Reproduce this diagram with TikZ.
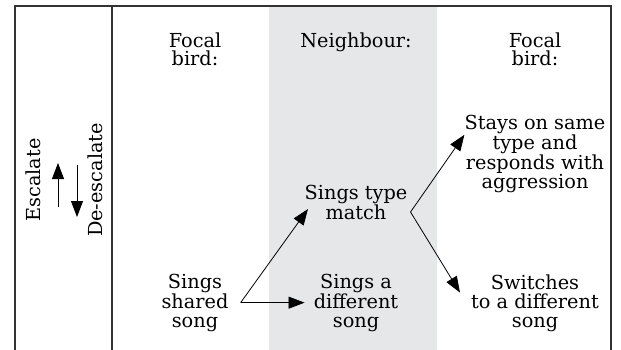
\documentclass[tikz,border=0pt]{standalone}
\usepackage{fontspec}
\setmainfont{DejaVu Serif}
\usepackage{tikz}
\usetikzlibrary{arrows.meta, positioning, calc}
\definecolor{bandgrey}{RGB}{230, 231, 233}

\begin{document}
\begin{tikzpicture}[
    x=1pt, y=-1pt,
    txt/.style={font=\fontsize{19.3}{18.7}\selectfont, align=center, inner sep=0pt, anchor=base},
    conn/.style={-{Triangle[length=16pt, width=12pt]}, line width=0.8pt},
    frame/.style={line width=1.1pt, draw=black!80}
]
    \useasboundingbox (0, 0) rectangle (621, 350);

    % Shaded neighbour column
    \fill[bandgrey] (269, 6) rectangle (437, 350);

    % Frame and axis column
    \draw[frame] (15, 350) -- (15, 6) -- (611, 6) -- (611, 350);
    \draw[frame] (112, 6) -- (112, 350);

    % Column headings (anchor is the last baseline)
    \node[txt] (focalA) at (195, 66) {Focal\\bird:};
    \node[txt] (neigh) at (356, 48) {Neighbour:};
    \node[txt] (focalB) at (535, 66) {Focal\\bird:};

    % Escalation axis
    \node[txt, rotate=90, anchor=center] (esc) at (33, 180) {Escalate};
    \node[txt, rotate=90, anchor=center] (deesc) at (95, 180) {De-escalate};
    \draw[conn] (58, 207) -- (58, 163);
    \draw[conn] (77, 165) -- (77, 217);

    % Song types
    \node[txt, inner xsep=12pt] (shared) at (195, 327) {Sings\\shared\\song};
    \node[txt, inner xsep=9pt] (diff) at (356, 327) {Sings a\\different\\song};
    \node[txt] (match) at (356, 219) {Sings type\\match};
    \node[txt] (stays) at (535, 188) {Stays on same\\type and\\responds with\\aggression};
    \node[txt, inner xsep=11pt] (switch) at (535, 327) {Switches\\to a different\\song};

    % Connectors
    \coordinate (split) at ($(match.349)+(3, 0)$);
    \draw[conn, shorten >=-6pt] (shared.east) -- (match.193);
    \draw[conn] (shared.east) -- (diff.west);
    \draw[conn] (split) -- (stays.165);
    \draw[conn] (split) -- (switch.172);

\end{tikzpicture}
\end{document}
